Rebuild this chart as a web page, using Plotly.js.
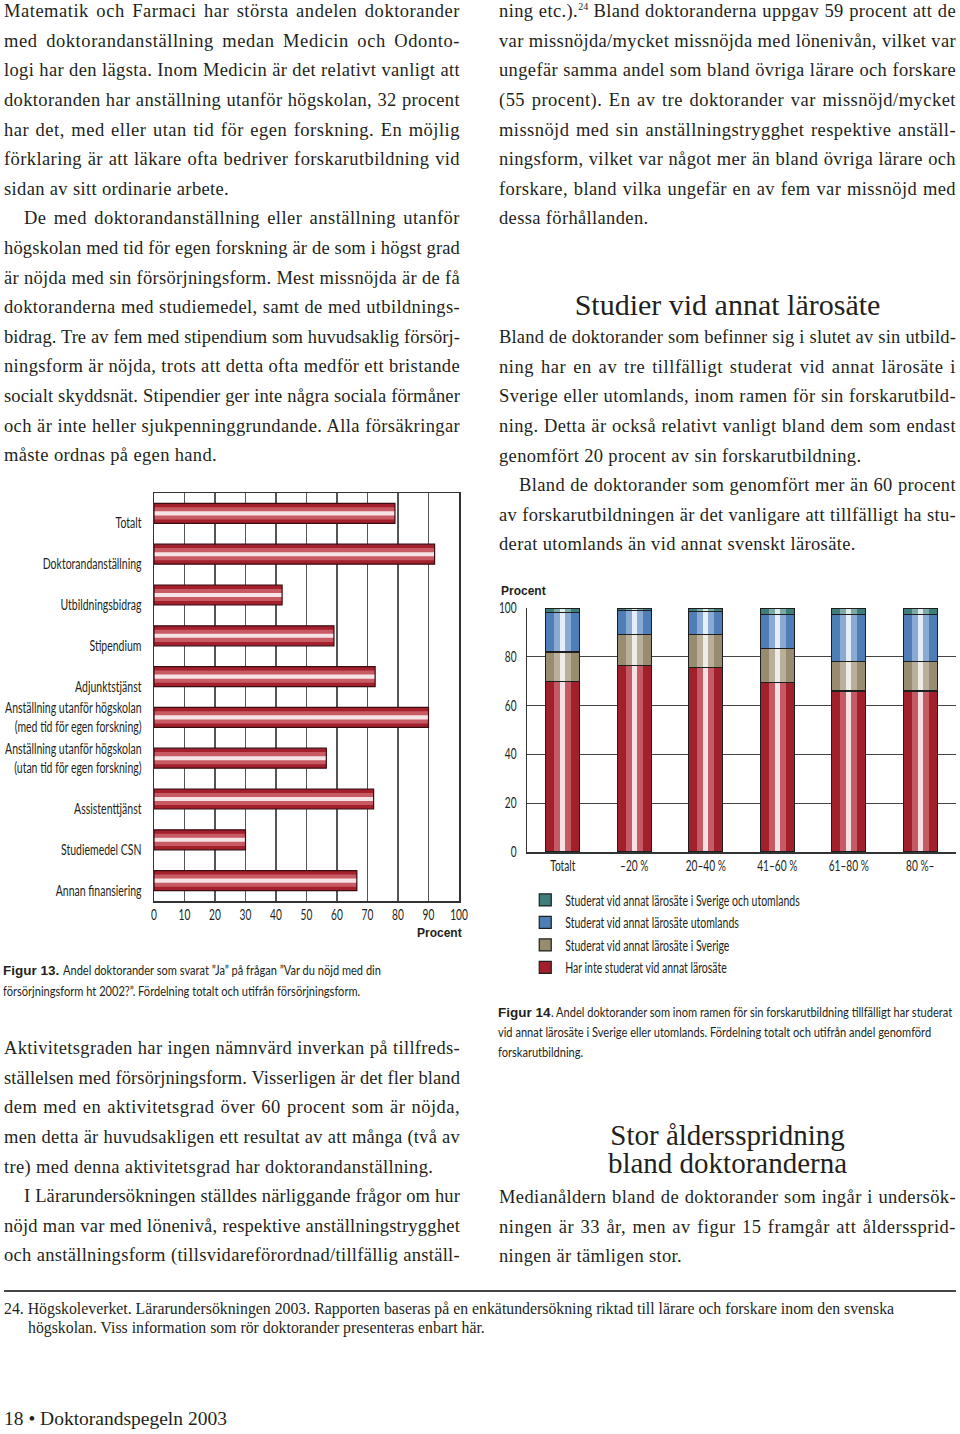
<!DOCTYPE html>
<html><head><meta charset="utf-8">
<script src="https://cdn.plot.ly/plotly-3.0.1.min.js"></script>
<style>
body{margin:0;width:960px;height:1434px;position:relative;background:#fff;overflow:hidden;}
.blk{position:absolute;font-family:"Liberation Serif","Times New Roman",serif;font-size:18.5px;letter-spacing:0.35px;color:#231f20;}
.ln{height:29.6px;line-height:29.6px;text-align:justify;text-align-last:justify;overflow:visible;white-space:nowrap;}
.ln.e{text-align-last:left;}
.ln.i{padding-left:20px;}
.hd{position:absolute;font-family:"Liberation Serif","Times New Roman",serif;font-size:29px;color:#231f20;text-align:center;}
.cap{position:absolute;color:#231f20;}
.cap div{white-space:nowrap;}
.cap b{font-family:"Liberation Sans","DejaVu Sans",sans-serif;font-size:13.5px;}
.cap .c{display:inline-block;font-family:Lato,"Liberation Sans",sans-serif;font-size:13.5px;transform:scaleX(0.82);transform-origin:0 50%;}
sup{font-size:10px;line-height:0;vertical-align:7px;letter-spacing:0;}
</style></head>
<body>

<div class="blk" style="left:4px;top:-2.8px;width:456px;">
<div class="ln">Matematik och Farmaci har största andelen doktorander</div>
<div class="ln">med doktorandanställning medan Medicin och Odonto-</div>
<div class="ln">logi har den lägsta. Inom Medicin är det relativt vanligt att</div>
<div class="ln">doktoranden har anställning utanför högskolan, 32 procent</div>
<div class="ln">har det, med eller utan tid för egen forskning. En möjlig</div>
<div class="ln">förklaring är att läkare ofta bedriver forskarutbildning vid</div>
<div class="ln e">sidan av sitt ordinarie arbete.</div>
<div class="ln i">De med doktorandanställning eller anställning utanför</div>
<div class="ln">högskolan med tid för egen forskning är de som i högst grad</div>
<div class="ln">är nöjda med sin försörjningsform. Mest missnöjda är de få</div>
<div class="ln">doktoranderna med studiemedel, samt de med utbildnings-</div>
<div class="ln">bidrag. Tre av fem med stipendium som huvudsaklig försörj-</div>
<div class="ln">ningsform är nöjda, trots att detta ofta medför ett bristande</div>
<div class="ln">socialt skyddsnät. Stipendier ger inte några sociala förmåner</div>
<div class="ln">och är inte heller sjukpenninggrundande. Alla försäkringar</div>
<div class="ln e">måste ordnas på egen hand.</div>
</div>

<div id="fig13" style="position:absolute;left:0;top:485px;width:470px;height:460px;"></div>

<div class="cap" style="left:3px;top:960px;width:460px;line-height:20px;">
<div><b>Figur 13.</b> <span class="c">Andel doktorander som svarat ”Ja” på frågan ”Var du nöjd med din</span></div>
<div><span class="c">försörjningsform ht 2002?”. Fördelning totalt och utifrån försörjningsform.</span></div>
</div>

<div class="blk" style="left:4px;top:1034.2px;width:456px;">
<div class="ln">Aktivitetsgraden har ingen nämnvärd inverkan på tillfreds-</div>
<div class="ln">ställelsen med försörjningsform. Visserligen är det fler bland</div>
<div class="ln">dem med en aktivitetsgrad över 60 procent som är nöjda,</div>
<div class="ln">men detta är huvudsakligen ett resultat av att många (två av</div>
<div class="ln e">tre) med denna aktivitetsgrad har doktorandanställning.</div>
<div class="ln i">I Lärarundersökningen ställdes närliggande frågor om hur</div>
<div class="ln">nöjd man var med lönenivå, respektive anställningstrygghet</div>
<div class="ln">och anställningsform (tillsvidareförordnad/tillfällig anställ-</div>
</div>

<div class="blk" style="left:499px;top:-2.8px;width:457px;">
<div class="ln">ning etc.).<sup>24</sup> Bland doktoranderna uppgav 59 procent att de</div>
<div class="ln">var missnöjda/mycket missnöjda med lönenivån, vilket var</div>
<div class="ln">ungefär samma andel som bland övriga lärare och forskare</div>
<div class="ln">(55 procent). En av tre doktorander var missnöjd/mycket</div>
<div class="ln">missnöjd med sin anställningstrygghet respektive anställ-</div>
<div class="ln">ningsform, vilket var något mer än bland övriga lärare och</div>
<div class="ln">forskare, bland vilka ungefär en av fem var missnöjd med</div>
<div class="ln e">dessa förhållanden.</div>
</div>

<div class="hd" style="left:499px;top:288px;width:457px;line-height:34px;font-size:30px;">Studier vid annat lärosäte</div>

<div class="blk" style="left:499px;top:323.2px;width:457px;">
<div class="ln">Bland de doktorander som befinner sig i slutet av sin utbild-</div>
<div class="ln">ning har en av tre tillfälligt studerat vid annat lärosäte i</div>
<div class="ln">Sverige eller utomlands, inom ramen för sin forskarutbild-</div>
<div class="ln">ning. Detta är också relativt vanligt bland dem som endast</div>
<div class="ln e">genomfört 20 procent av sin forskarutbildning.</div>
<div class="ln i">Bland de doktorander som genomfört mer än 60 procent</div>
<div class="ln">av forskarutbildningen är det vanligare att tillfälligt ha stu-</div>
<div class="ln e">derat utomlands än vid annat svenskt lärosäte.</div>
</div>

<div id="fig14" style="position:absolute;left:490px;top:580px;width:470px;height:420px;"></div>

<div class="cap" style="left:498px;top:1002px;width:458px;line-height:19px;">
<div><b>Figur 14</b><span class="c">. Andel doktorander som inom ramen för sin forskarutbildning tillfälligt har studerat</span></div>
<div><span class="c">vid annat lärosäte i Sverige eller utomlands. Fördelning totalt och utifrån andel genomförd</span></div>
<div><span class="c">forskarutbildning.</span></div>
</div>

<div class="hd" style="left:499px;top:1121px;width:457px;height:28px;line-height:28px;">Stor åldersspridning</div>
<div class="hd" style="left:499px;top:1149px;width:457px;height:28px;line-height:28px;">bland doktoranderna</div>

<div class="blk" style="left:499px;top:1183.2px;width:457px;">
<div class="ln">Medianåldern bland de doktorander som ingår i undersök-</div>
<div class="ln">ningen är 33 år, men av figur 15 framgår att ålderssprid-</div>
<div class="ln e">ningen är tämligen stor.</div>
</div>

<div style="position:absolute;left:4px;top:1290px;width:952px;height:2px;background:#444;"></div>
<div style="position:absolute;left:4px;top:1300px;width:956px;font-family:'Liberation Serif',serif;font-size:15.8px;line-height:18.5px;color:#231f20;white-space:nowrap;">
<div>24. Högskoleverket. Lärarundersökningen 2003. Rapporten baseras på en enkätundersökning riktad till lärare och forskare inom den svenska</div>
<div style="padding-left:24px;">högskolan. Viss information som rör doktorander presenteras enbart här.</div>
</div>
<div style="position:absolute;left:4px;top:1406px;font-family:'Liberation Serif',serif;font-size:19.5px;line-height:26px;color:#231f20;">18 • Doktorandspegeln 2003</div>

<script>
// fit justified lines
document.querySelectorAll('.ln').forEach(function(el){
  var cs = getComputedStyle(el);
  var avail = el.clientWidth - parseFloat(cs.paddingLeft);
  var m = document.createElement('span');
  m.style.cssText = 'position:absolute;visibility:hidden;white-space:nowrap;';
  m.innerHTML = el.innerHTML;
  el.appendChild(m);
  var nat = m.getBoundingClientRect().width;
  var n = m.textContent.length;
  el.removeChild(m);
  var base = parseFloat(cs.letterSpacing) || 0;
  if (nat > avail - 1) el.style.letterSpacing = (base + (avail - 1 - nat) / n) + 'px';
  else if (!el.classList.contains('e')) el.style.letterSpacing = (base + Math.min(0.5, 0.4 * (avail - nat) / n)) + 'px';
});

// ---------- Figur 13 data ----------
var fig13Categories = [
  'Totalt',
  'Doktorandanställning',
  'Utbildningsbidrag',
  'Stipendium',
  'Adjunktstjänst',
  'Anställning utanför högskolan<br>(med tid för egen forskning)',
  'Anställning utanför högskolan<br>(utan tid för egen forskning)',
  'Assistenttjänst',
  'Studiemedel CSN',
  'Annan finansiering'
];
var fig13Values = [79, 92, 42, 59, 72.5, 90, 56.5, 72, 30, 66.5];
var fig13Ticks = [0, 10, 20, 30, 40, 50, 60, 70, 80, 90, 100];

// ---------- Figur 14 data ----------
var fig14Categories = ['Totalt', '–20 %', '20–40 %', '41–60 %', '61–80 %', '80 %–'];
var fig14NotStudied = [70, 76.5, 75.5, 69.5, 66, 66];
var fig14Sweden = [12, 12.5, 13.5, 14, 12, 12];
var fig14Abroad = [16, 10, 9.5, 14, 19.5, 19.5];
var fig14Both = [2, 1, 1.5, 2.5, 2.5, 2.5];
var fig14SeriesNames = [
  'Har inte studerat vid annat lärosäte',
  'Studerat vid annat lärosäte i Sverige',
  'Studerat vid annat lärosäte utomlands',
  'Studerat vid annat lärosäte i Sverige och utomlands'
];
var fig14Ticks = [0, 20, 40, 60, 80, 100];

var COND = "Lato, 'Liberation Sans', sans-serif";
var BOLD = "'Liberation Sans', 'DejaVu Sans', sans-serif";
var TXT = '#231f20';
var K = 0.7;

function condense(gd, selector, k){
  gd.querySelectorAll(selector).forEach(function(t){
    var x = parseFloat(t.getAttribute('x')) || 0;
    var old = t.getAttribute('transform') || '';
    t.setAttribute('transform', old + ' translate(' + x + ',0) scale(' + k + ',1) translate(' + (-x) + ',0)');
  });
}

// ----- Figure 13 -----
var ticktext13 = fig13Categories.map(function(c){ return c.indexOf('<br>') >= 0 ? c : '<br>' + c; });
var red = {base:'#a3202c', mid:'#c85a64', inner:'#f5e3e5'};
function hbar(width, color, line, fill){
  return {type:'bar', orientation:'h', y:fig13Categories, x:fig13Values, width:width,
    marker:{color: fill===false ? 'rgba(0,0,0,0)' : color, line:{color:line||color, width: line?1.2:0}},
    hoverinfo:'x+y', showlegend:false};
}
var data13 = [
  hbar(0.49, red.base),
  hbar(0.30, red.mid),
  hbar(0.10, red.inner),
  hbar(0.49, red.base, '#3b0c12', false)
];
var layout13 = {
  width:470, height:460, margin:{l:154, r:11, t:8, b:44, autoexpand:false},
  paper_bgcolor:'rgba(0,0,0,0)', plot_bgcolor:'#fff',
  barmode:'overlay', showlegend:false,
  font:{family:COND, color:TXT, size:14},
  xaxis:{range:[0,100], tickvals:fig13Ticks, ticktext:fig13Ticks.map(String), showgrid:true, gridcolor:'#555', gridwidth:1.2,
    zeroline:false, showline:true, linecolor:'#333', linewidth:1.5, mirror:true, ticks:'', ticklabeloverflow:'allow',
    tickfont:{size:14.5, family:COND}, fixedrange:true},
  yaxis:{type:'category', range:[9.5,-0.5], tickvals:fig13Categories, ticktext:ticktext13, showgrid:false, zeroline:false,
    showline:true, linecolor:'#333', linewidth:1.5, mirror:true, ticks:'', ticklabelstandoff:8, ticklabeloverflow:'allow',
    tickfont:{size:15, family:COND}},
  annotations:[{text:'<b>Procent</b>', xref:'x', yref:'paper', x:100, y:0, xanchor:'right', yanchor:'top', xshift:5, yshift:-23,
    showarrow:false, font:{family:BOLD, size:12, color:TXT}}]
};
Plotly.newPlot('fig13', data13, layout13, {displayModeBar:false, staticPlot:true}).then(function(gd){
  condense(gd, '.xtick text', K);
  condense(gd, '.ytick text', K);
});

// ----- Figure 14 -----
var series14 = [fig14NotStudied, fig14Sweden, fig14Abroad, fig14Both];
var colors14 = [
  {base:'#a21f2c', mid:'#c65a64', inner:'#f5e1e3'},
  {base:'#978b70', mid:'#b9b09b', inner:'#eeece6'},
  {base:'#4f7db5', mid:'#88aad3', inner:'#e5eef8'},
  {base:'#3e7d79', mid:'#7caba7', inner:'#ddeceb'}
];
var data14 = [];
var layers = [
  {ax:'', w:0.475, key:'base', legend:true},
  {ax:'2', w:0.24, key:'mid'},
  {ax:'3', w:0.075, key:'inner'},
  {ax:'4', w:0.475, key:'outline'}
];
layers.forEach(function(L){
  series14.forEach(function(vals, i){
    var col = L.key === 'outline' ? 'rgba(0,0,0,0)' : colors14[i][L.key];
    data14.push({type:'bar', x:fig14Categories, y:vals, width:L.w, name:fig14SeriesNames[i],
      xaxis:'x'+L.ax, yaxis:'y'+L.ax, showlegend:!!L.legend, legendrank: 10 - i,
      marker:{color:col, line:{color: (L.key==='outline'||L.key==='base') ? '#1e1e1e' : col, width: (L.key==='outline'||L.key==='base') ? 1.2 : 0}},
      hoverinfo:'name+y'});
  });
});
function hx(){ return {type:'category', range:[-0.5,5.5], visible:false, fixedrange:true, overlaying:'x'}; }
function hy(){ return {range:[0,100], visible:false, fixedrange:true, overlaying:'y'}; }
var layout14 = {
  width:470, height:420, margin:{l:37, r:4, t:28, b:148, autoexpand:false},
  paper_bgcolor:'rgba(0,0,0,0)', plot_bgcolor:'#fff',
  barmode:'stack',
  font:{family:COND, color:TXT, size:14},
  xaxis:{type:'category', range:[-0.5,5.5], showline:true, linecolor:'#333', linewidth:1.5, ticks:'', showgrid:false,
    ticklabeloverflow:'allow', tickfont:{size:14.5, family:COND}, fixedrange:true},
  yaxis:{range:[0,100], tickvals:fig14Ticks, showgrid:true, gridcolor:'#444', gridwidth:1.2, zeroline:false,
    showline:true, linecolor:'#333', linewidth:1.5, ticks:'', ticklabelstandoff:6, ticklabeloverflow:'allow',
    tickfont:{size:14.5, family:COND}, fixedrange:true},
  xaxis2:Object.assign(hx(), {anchor:'y2'}), yaxis2:Object.assign(hy(), {anchor:'x2'}),
  xaxis3:Object.assign(hx(), {anchor:'y3'}), yaxis3:Object.assign(hy(), {anchor:'x3'}),
  xaxis4:Object.assign(hx(), {anchor:'y4'}), yaxis4:Object.assign(hy(), {anchor:'x4'}),
  showlegend:true,
  legend:{xref:'container', yref:'container', x:0.075, y:0.277, xanchor:'left', yanchor:'top',
    traceorder:'normal', bgcolor:'rgba(0,0,0,0)', font:{family:COND, size:15, color:TXT}},
  annotations:[{text:'<b>Procent</b>', xref:'paper', yref:'paper', x:0, y:1, xanchor:'left', yanchor:'bottom', xshift:-28, yshift:8,
    showarrow:false, font:{family:BOLD, size:12, color:TXT}}]
};
Plotly.newPlot('fig14', data14, layout14, {displayModeBar:false, staticPlot:true}).then(function(gd){
  condense(gd, '.xtick text', K);
  condense(gd, '.ytick text', K);
  condense(gd, '.legendtext', K);
});
</script>
</body></html>
